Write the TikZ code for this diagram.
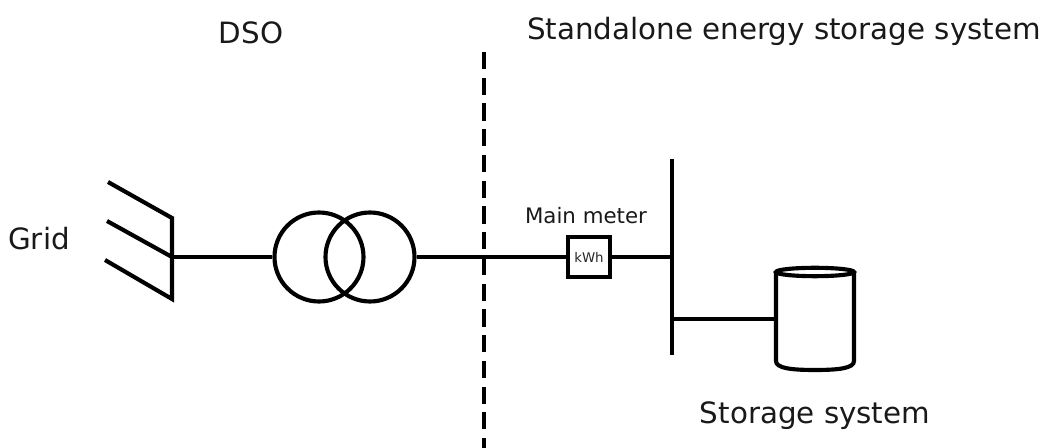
\documentclass[tikz,border=0pt]{standalone}
\usepackage{fontspec}
\setmainfont{DejaVu Sans}
\tikzset{
  px/.style={x=0.75pt,y=-0.75pt},
  wire/.style={line width=3.1pt,line cap=butt,line join=miter,draw=black},
  thinwire/.style={line width=2.9pt,draw=black},
  bigtext/.style={font=\fontsize{22pt}{25pt}\selectfont,inner sep=0pt,text=black!90},
  midtext/.style={font=\fontsize{16pt}{19pt}\selectfont,inner sep=0pt,text=black!90},
  metertext/.style={font=\fontsize{10pt}{12pt}\selectfont,inner sep=0pt,text=black!85},
  coil/.style={circle,draw=black,line width=3.1pt,minimum size=66.75pt,inner sep=0pt},
  meterbox/.style={rectangle,draw=black,line width=2.9pt,minimum width=31.5pt,minimum height=30pt,inner sep=0pt,fill=white}
}
\begin{document}
\begin{tikzpicture}[px]
\useasboundingbox (0,0) rectangle (1043,448);
% labels
\node[bigtext] (dso) at (251,33) {DSO};
\node[bigtext] (sess) at (784,31) {Standalone energy storage system};
\node[bigtext] (grid) at (39,239) {Grid};
\node[midtext] (mm) at (586,216) {Main meter};
\node[bigtext] (ss) at (815,416) {Storage system};
% boundary
\coordinate (bt) at (484,52);
\coordinate (bb) at (484,448);
\draw[line width=3.2pt,dash pattern=on 12.9pt off 6.4pt] (bt) -- (bb);
% grid symbol
\coordinate (g1) at (108,182);
\coordinate (g2) at (172,218);
\coordinate (g3) at (107,221);
\coordinate (g4) at (172,257);
\coordinate (g5) at (105,260);
\coordinate (g6) at (172,299);
\draw[wire] (g1) -- (g2) -- (g4) -- (g6) -- (g5);
\draw[wire] (g3) -- (g4);
% transformer
\node[coil] (c1) at (319,257) {};
\node[coil] (c2) at (370,257) {};
% meter
\node[meterbox] (meter) at (589,257) {};
\node[metertext] (kwh) at (meter.center) {kWh};
% bus
\coordinate (bus1) at (672,159);
\coordinate (bus2) at (672,355.5);
\coordinate (busm) at (672,257);
\coordinate (busl) at (672,319);
\draw[wire] (bus1) -- (bus2);
% connectors
\draw[thinwire] (g4) -- (c1.west);
\draw[thinwire] (c2.east) -- (meter.west);
\draw[thinwire] (meter.east) -- (busm);
% storage
\coordinate (st) at (776,319);
\draw[thinwire] (busl) -- (st);
\draw[wire,fill=white]
  (776,272) -- (776,361) .. controls (776,368) and (790,370) .. (815,370)
  .. controls (840,370) and (854,368) .. (854,361) -- (854,272);
\draw[wire] (815,272) ellipse [x radius=39,y radius=4.2];
\end{tikzpicture}
\end{document}
